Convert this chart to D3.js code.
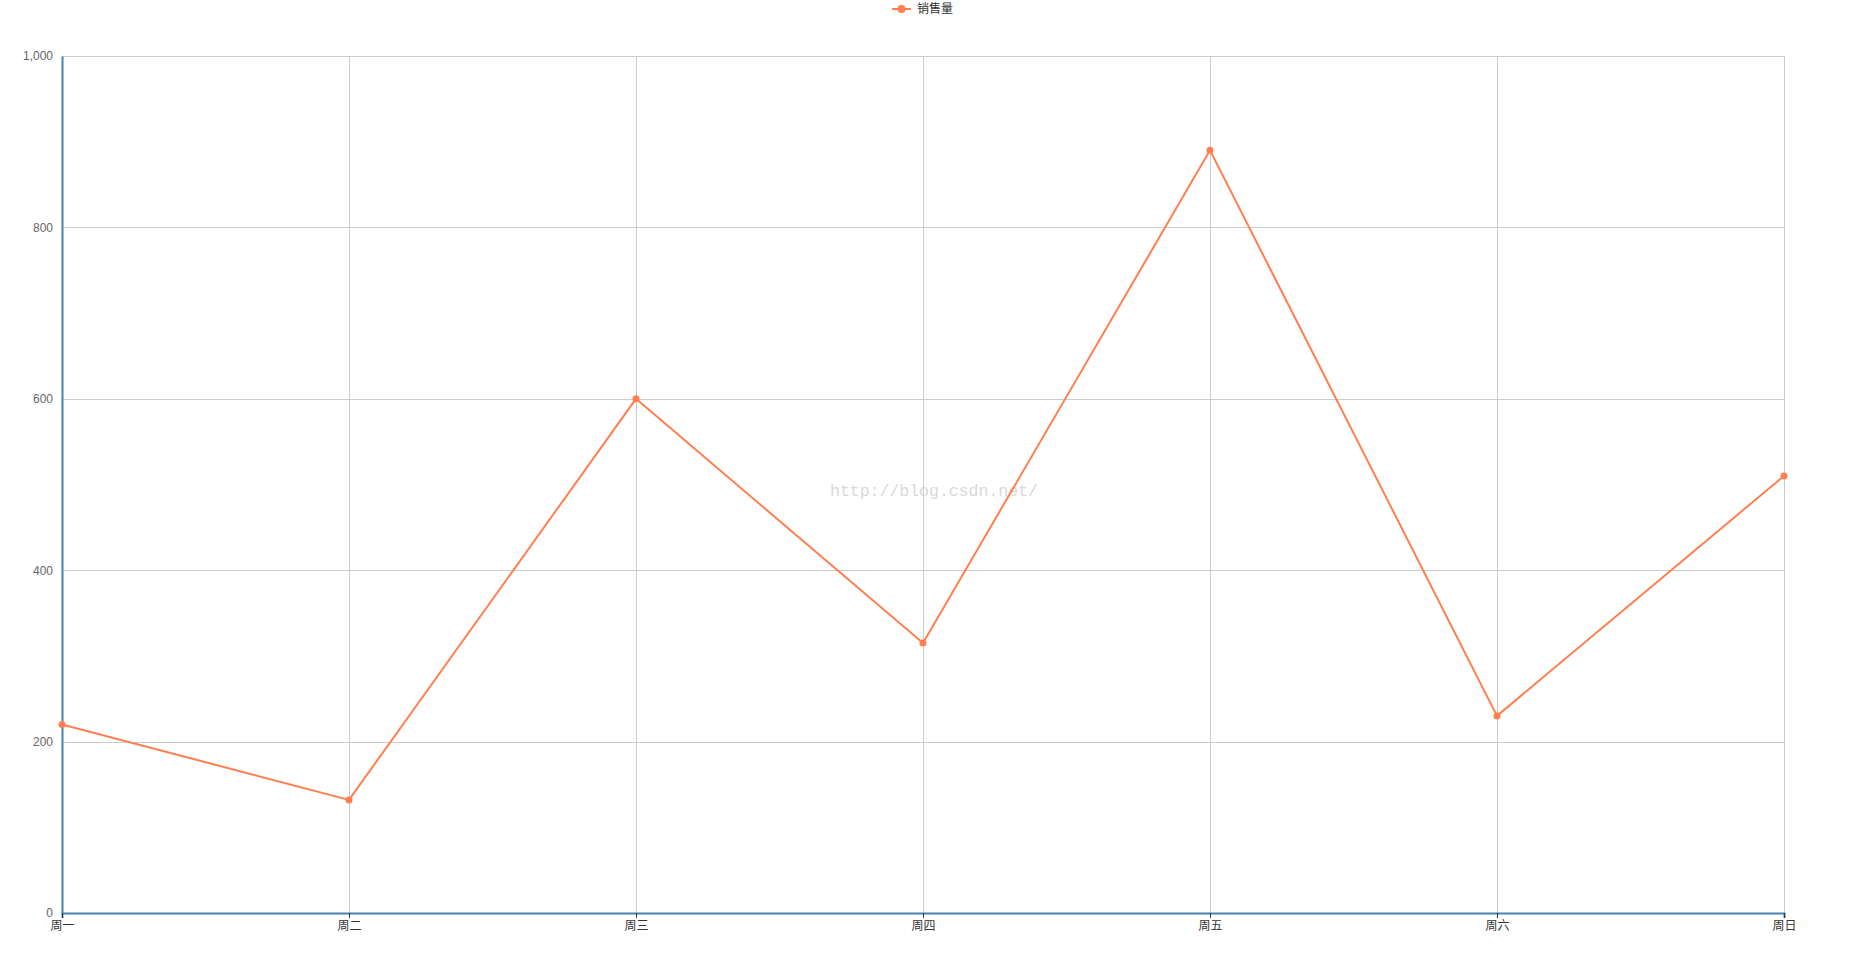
<!DOCTYPE html>
<html>
<head>
<meta charset="utf-8">
<script src="https://cdn.jsdelivr.net/npm/d3@7.9.0/dist/d3.min.js"></script>
<style>
  html, body { margin: 0; padding: 0; background: #fff; }
  svg { display: block; font-family: "Liberation Sans", "Noto Sans CJK SC", sans-serif; }
  .grid line { stroke: #ccc; stroke-width: 1; shape-rendering: crispEdges; }
  .grid .domain { display: none; }
  .axis--y text { fill: #666; font-size: 12px; }
  .axis--x text { fill: #333; font-size: 12px; font-family: "Noto Sans CJK SC", sans-serif; }
</style>
</head>
<body>
<div id="chart"></div>
<script>
const days = ['周一', '周二', '周三', '周四', '周五', '周六', '周日'];
const sales = [220, 132, 600, 315, 890, 230, 510];
const yTicks = [0, 200, 400, 600, 800, 1000];
const seriesName = '销售量';

const width = 1850;
const height = 958;
const margin = { top: 56, right: 66, bottom: 45, left: 62 };

const svg = d3.select('#chart')
  .append('svg')
  .attr('width', width)
  .attr('height', height);

const x = d3.scalePoint()
  .domain(days)
  .range([margin.left, width - margin.right]);

const y = d3.scaleLinear()
  .domain([0, 1000])
  .range([height - margin.bottom, margin.top]);

// grid
svg.append('g')
  .attr('class', 'grid')
  .attr('transform', `translate(${margin.left},0)`)
  .call(d3.axisLeft(y).tickValues(yTicks).tickFormat('').tickSize(-(width - margin.left - margin.right)));

svg.append('g')
  .attr('class', 'grid')
  .attr('transform', `translate(0,${height - margin.bottom})`)
  .call(d3.axisBottom(x).tickFormat('').tickSize(-(height - margin.top - margin.bottom)));

// watermark
svg.append('text')
  .attr('x', 830)
  .attr('y', 496)
  .attr('fill', '#d9d9d9')
  .style('font-family', '"Liberation Mono", monospace')
  .style('font-size', '16.5px')
  .text('http://blog.csdn.net/');

// y axis
const yAxis = svg.append('g')
  .attr('class', 'axis axis--y')
  .attr('transform', `translate(${margin.left},0)`)
  .call(d3.axisLeft(y).tickValues(yTicks).tickSize(0).tickPadding(9).tickFormat(d3.format(',')));
yAxis.select('.domain').attr('stroke', '#4682b4').attr('stroke-width', 2);

// x axis
const xAxis = svg.append('g')
  .attr('class', 'axis axis--x')
  .attr('transform', `translate(0,${height - margin.bottom})`)
  .call(d3.axisBottom(x).tickSize(5).tickPadding(3));
xAxis.select('.domain').attr('stroke', '#4682b4').attr('stroke-width', 2);
xAxis.selectAll('.tick line').attr('stroke', '#333');

// line
const line = d3.line()
  .x((d, i) => x(days[i]))
  .y((d) => y(d));

svg.append('path')
  .datum(sales)
  .attr('fill', 'none')
  .attr('stroke', '#ff7f50')
  .attr('stroke-width', 2)
  .attr('d', line);

svg.append('g')
  .selectAll('circle')
  .data(sales)
  .join('circle')
  .attr('cx', (d, i) => x(days[i]))
  .attr('cy', (d) => y(d))
  .attr('r', 3.5)
  .attr('fill', '#ff7f50');

// legend
const legend = svg.append('g').attr('transform', 'translate(892,9)');
legend.append('line')
  .attr('x1', 0).attr('x2', 19)
  .attr('stroke', '#ff7f50').attr('stroke-width', 2);
legend.append('circle')
  .attr('cx', 9.5).attr('r', 4)
  .attr('fill', '#ff7f50');
legend.append('text')
  .attr('x', 25)
  .attr('dy', '0.35em')
  .attr('fill', '#333')
  .style('font-family', '"Noto Sans CJK SC", sans-serif')
  .style('font-size', '12px')
  .text(seriesName);
</script>
</body>
</html>
